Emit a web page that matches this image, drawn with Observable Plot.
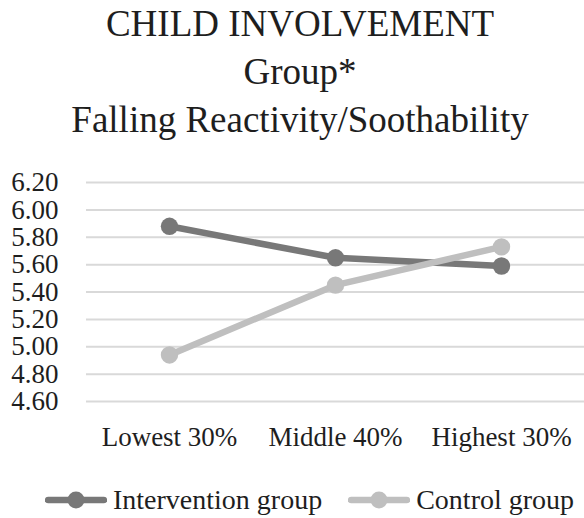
<!DOCTYPE html>
<html>
<head>
<meta charset="utf-8">
<script src="https://cdn.jsdelivr.net/npm/d3@7"></script>
<script src="https://cdn.jsdelivr.net/npm/@observablehq/plot@0.6"></script>
<style>
  body { margin: 0; background: #fff; font-family: "Liberation Serif", "Times New Roman", Times, serif; color: #1e1e1e; }
  #wrap { width: 584px; height: 518px; position: relative; overflow: hidden; }
  #title { font-size: 37px; line-height: 48px; text-align: center; padding-top: 0px; padding-left: 16px; height: 144px; }
  #legend { display: flex; align-items: center; padding-left: 45px; padding-top: 21px; height: 36px; font-size: 28px; }
  .item { display: flex; align-items: center; }
  .item svg { display: block; }
</style>
</head>
<body>
<div id="wrap">
  <div id="title">CHILD INVOLVEMENT<br>Group*<br>Falling Reactivity/Soothability</div>
  <div id="chart"></div>
  <div id="legend"></div>
</div>
<script>
const categories = ["Lowest 30%", "Middle 40%", "Highest 30%"];
const interventionValues = [5.88, 5.65, 5.59];
const controlValues = [4.94, 5.45, 5.73];
const seriesNames = ["Intervention group", "Control group"];
const seriesColors = ["#787878", "#bfbfbf"];
const yTicks = [4.6, 4.8, 5.0, 5.2, 5.4, 5.6, 5.8, 6.0, 6.2];

const rows = [];
categories.forEach((c, i) => {
  rows.push({category: c, series: seriesNames[0], value: interventionValues[i]});
  rows.push({category: c, series: seriesNames[1], value: controlValues[i]});
});

const plot = Plot.plot({
  width: 584,
  height: 317,
  marginTop: 38,
  marginBottom: 60,
  marginLeft: 86,
  marginRight: 0,
  style: { fontFamily: "'Liberation Serif', 'Times New Roman', Times, serif", fontSize: "27px", color: "#1e1e1e", background: "#fff" },
  x: { type: "point", domain: categories, padding: 0.5, label: null },
  y: { domain: [4.6, 6.2], label: null },
  color: { domain: seriesNames, range: seriesColors },
  marks: [
    Plot.ruleY(yTicks, { stroke: "#d9d9d9", strokeWidth: 2 }),
    Plot.axisY({ ticks: yTicks, tickFormat: d3.format(".2f"), tickSize: 0, tickPadding: 28, label: null, fontSize: 27 }),
    Plot.axisX({ tickSize: 0, tickPadding: 25, label: null, fontSize: 27 }),
    Plot.line(rows, { x: "category", y: "value", z: "series", stroke: "series", strokeWidth: 6.5, strokeLinecap: "round" }),
    Plot.dot(rows, { x: "category", y: "value", fill: "series", r: 8.7, stroke: null })
  ]
});
document.getElementById("chart").appendChild(plot);

const legend = document.getElementById("legend");
seriesNames.forEach((name, i) => {
  const item = document.createElement("div");
  item.className = "item";
  if (i > 0) item.style.marginLeft = "26px";
  const w = 62;
  item.innerHTML = `<svg width="${w}" height="20"><line x1="3" y1="10" x2="${w - 3}" y2="10" stroke="${seriesColors[i]}" stroke-width="6.5" stroke-linecap="round"/><circle cx="${w / 2}" cy="10" r="8.5" fill="${seriesColors[i]}"/></svg><span style="margin-left:6px">${name}</span>`;
  legend.appendChild(item);
});
</script>
</body>
</html>
